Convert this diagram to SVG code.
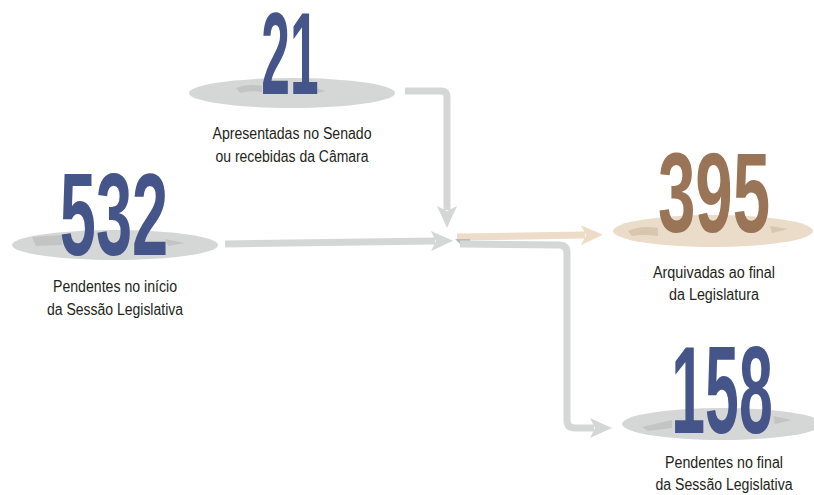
<svg xmlns="http://www.w3.org/2000/svg" width="814" height="495" viewBox="0 0 814 495">
<style>
.num{font-family:"Liberation Sans",Arial,sans-serif;font-weight:bold;text-anchor:middle}
.blue{fill:#45558a}
.brown{fill:#9a7456}
.lbl{font-family:"Liberation Sans",Arial,sans-serif;font-size:16px;fill:#231f20;text-anchor:middle}
.gplate{fill:#d5d7d6}
.bplate{fill:#ebdcc9}
.gshadow{fill:#c3c5c4}
.bshadow{fill:#d8c6ae}
.gline{fill:none;stroke:#d5d7d6;stroke-width:7}
.bline{fill:none;stroke:#ecdcc8;stroke-width:7}
</style>
<defs>
<marker id="ag" markerUnits="userSpaceOnUse" markerWidth="22" markerHeight="20" viewBox="0 0 22 20" refX="4" refY="10" orient="auto">
<path d="M0,0 L22,10 L0,20 L5,10 z" fill="#d5d7d6"/>
</marker>
<marker id="ab" markerUnits="userSpaceOnUse" markerWidth="22" markerHeight="20" viewBox="0 0 22 20" refX="4" refY="10" orient="auto">
<path d="M0,0 L22,10 L0,20 L5,10 z" fill="#ecdcc8"/>
</marker>
</defs>
<g id="connectors">
<path class="gline" d="M405,91 L441,91 Q447,91 447,97 L447,210" marker-end="url(#ag)"/>
<path class="gline" d="M225,244 L435,241" marker-end="url(#ag)"/>
<path class="bline" d="M457,237 L585,235" marker-end="url(#ab)"/>
<path d="M455,239 L470,239 L470,243 L460,244 z" fill="#b9bbbb"/>
<path class="gline" d="M460,244 L559,245 Q567,245 567,253 L567,420 Q567,428 575,428 L594,428" marker-end="url(#ag)"/>
</g>
<g id="node-21">
<ellipse class="gplate" cx="292" cy="93" rx="103" ry="15"/>
<path class="gshadow" d="M236,88 Q248,83 262,86 L262,92 Q250,90 240,93 z M312,87 L326,91 L318,93 L306,90 z"/>
<text class="num blue" transform="translate(290,94) scale(0.44,1)" font-size="117">21</text>
<text class="lbl" x="292" y="139" textLength="159" lengthAdjust="spacingAndGlyphs">Apresentadas no Senado</text>
<text class="lbl" x="292" y="162" textLength="153" lengthAdjust="spacingAndGlyphs">ou recebidas da Câmara</text>
</g>
<g id="node-532">
<ellipse class="gplate" cx="115" cy="245" rx="103" ry="15"/>
<path class="gshadow" d="M32,237 L62,235 L62,245 L36,246 z M165,239 L185,243 L168,246 z"/>
<text class="num blue" transform="translate(114,255) scale(0.555,1)" font-size="117">532</text>
<text class="lbl" x="115" y="292" textLength="124" lengthAdjust="spacingAndGlyphs">Pendentes no início</text>
<text class="lbl" x="115" y="315" textLength="136" lengthAdjust="spacingAndGlyphs">da Sessão Legislativa</text>
</g>
<g id="node-395">
<ellipse class="bplate" cx="713" cy="231" rx="100" ry="16"/>
<path class="bshadow" d="M628,231 Q640,225 658,228 L658,236 Q642,234 632,236 z M770,226 L788,229 L772,233 z"/>
<text class="num brown" transform="translate(714,232) scale(0.59,1)" font-size="114">395</text>
<text class="lbl" x="714" y="278" textLength="122" lengthAdjust="spacingAndGlyphs">Arquivadas ao final</text>
<text class="lbl" x="714" y="300" textLength="90" lengthAdjust="spacingAndGlyphs">da Legislatura</text>
</g>
<g id="node-158">
<ellipse class="gplate" cx="722" cy="424" rx="100" ry="16"/>
<path class="gshadow" d="M642,427 L672,420 L672,428 L648,431 z M773,416 L792,420 L775,424 z"/>
<text class="num blue" transform="translate(722,433) scale(0.49,1)" font-size="124">158</text>
<text class="lbl" x="724" y="468" textLength="118" lengthAdjust="spacingAndGlyphs">Pendentes no final</text>
<text class="lbl" x="724" y="490" textLength="137" lengthAdjust="spacingAndGlyphs">da Sessão Legislativa</text>
</g>
</svg>
